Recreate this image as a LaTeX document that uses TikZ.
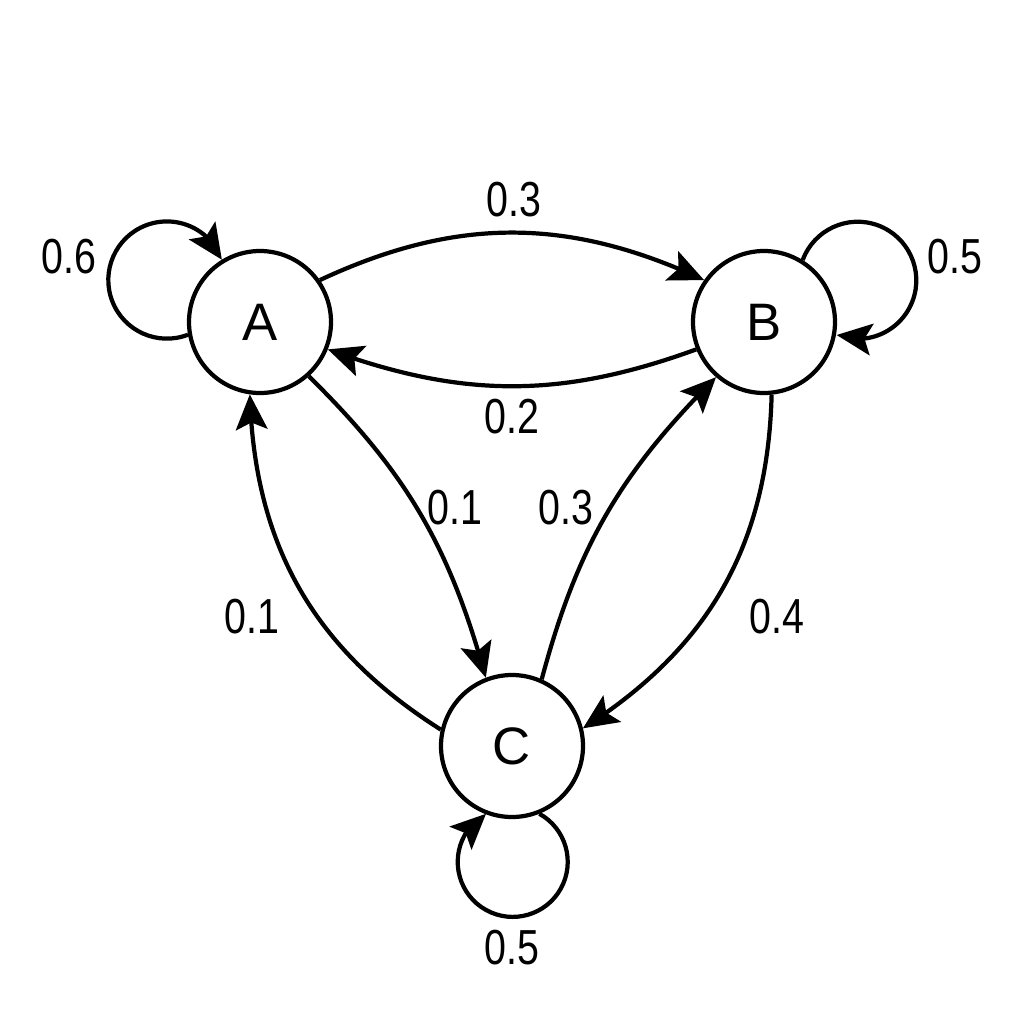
\documentclass[tikz,border=0pt]{standalone}
\usepackage{fontspec}
\setmainfont{Liberation Sans}
\newfontfamily\lblfont{Liberation Sans}[FakeStretch=0.8]
\usetikzlibrary{arrows.meta,bending}

\begin{document}
\begin{tikzpicture}[
	state/.style={draw,circle,line width=1.2pt,minimum size=1.42cm,inner sep=0pt,
		font=\fontsize{15}{18}\selectfont},
	link/.style={line width=1.2pt,-{Stealth[length=10pt,width=9pt,inset=2pt,flex]}},
	prob/.style={inner sep=0pt,font=\lblfont\fontsize{14}{16}\selectfont}
]
\useasboundingbox (0,0) rectangle (10.24,-10.24);

% STATES
\node[state] (A) at (2.60,-3.22) {A};
\node[state] (B) at (7.64,-3.22) {B};
\node[state] (C) at (5.12,-7.46) {C};

% SELF LOOPS
\draw[link] (A.190) arc[start angle=-68.9,end angle=-339.7,radius=0.586];
\draw[link] (B.58.6) arc[start angle=159.7,end angle=-111.1,radius=0.586];
\draw[link] (C.292.1) arc[start angle=61,end angle=-241,radius=0.55];

% A <-> B
\draw[link] (A.35) to[bend left=25] (B.145);
\draw[link] (B.202) to[bend left=20] (A.338);

% A -> C, C -> B
\draw[link] (A.312) to[bend left=15] (C.111);
\draw[link] (C.66) to[bend left=15] (B.229);

% B -> C, C -> A
\draw[link] (B.276) to[bend left=28] (C.14);
\draw[link] (C.167) to[bend left=28] (A.262);

% PROBABILITIES
\node[prob] (pAA) at (0.69,-2.57) {0.6};
\node[prob] (pBB) at (9.55,-2.57) {0.5};
\node[prob] (pCC) at (5.12,-9.48) {0.5};
\node[prob] (pAB) at (5.14,-2.00) {0.3};
\node[prob] (pBA) at (5.12,-4.17) {0.2};
\node[prob] (pAC) at (4.55,-5.08) {0.1};
\node[prob] (pCB) at (5.66,-5.08) {0.3};
\node[prob] (pCA) at (2.52,-6.17) {0.1};
\node[prob] (pBC) at (7.77,-6.17) {0.4};
\end{tikzpicture}
\end{document}
